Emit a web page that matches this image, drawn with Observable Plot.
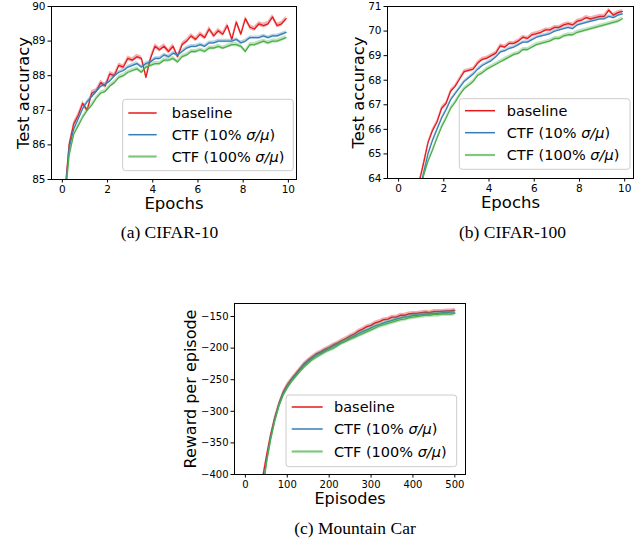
<!DOCTYPE html>
<html>
<head>
<meta charset="utf-8">
<script src="https://cdn.jsdelivr.net/npm/d3@7"></script>
<script src="https://cdn.jsdelivr.net/npm/@observablehq/plot@0.6"></script>
<style>
  html, body { margin: 0; padding: 0; background: #ffffff; }
  #fig { position: relative; width: 641px; height: 544px; background: #ffffff; overflow: hidden; }
  #fig svg { position: absolute; overflow: visible; }
</style>
</head>
<body>
<div id="fig"></div>
<script>
// ---------- data ----------
const seriesLabels = ["baseline", "CTF (10% σ/μ)", "CTF (100% σ/μ)"];
const seriesColors = ["#e41a1c", "#377eb8", "#4daf4a"];

const epochs = [0.1,0.3,0.5,0.7,0.9,1.1,1.3,1.5,1.7,1.9,2.1,2.3,2.5,2.7,2.9,3.1,3.3,3.5,3.7,3.9,
  4.1,4.3,4.5,4.7,4.9,5.1,5.3,5.5,5.7,5.9,6.1,6.3,6.5,6.7,6.9,7.1,7.3,7.5,7.7,7.9,
  8.1,8.3,8.5,8.7,8.9,9.1,9.3,9.5,9.7,9.9];

// (a) CIFAR-10 test accuracy
const cifar10Baseline = [84.5,86.0,86.6,86.85,87.2,87.0,87.5,87.55,87.8,87.7,
  88.05,88.0,88.3,88.25,88.5,88.45,88.55,88.5,87.95,88.5,
  88.85,88.75,88.85,88.7,88.85,88.55,88.9,89.0,89.15,89.05,
  89.2,89.1,89.35,89.15,89.3,89.2,89.45,89.05,89.55,89.2,
  89.65,89.4,89.35,89.5,89.45,89.5,89.7,89.45,89.5,89.65];
const cifar10Ctf10 = [84.4,85.9,86.45,86.75,87.05,87.25,87.4,87.55,87.7,87.75,
  87.85,88.0,88.1,88.15,88.25,88.3,88.35,88.25,88.35,88.4,
  88.5,88.5,88.6,88.55,88.65,88.6,88.7,88.8,88.85,88.85,
  88.9,88.85,88.95,88.95,89.0,89.0,89.0,89.0,89.05,88.95,
  89.0,89.1,89.1,89.1,89.15,89.1,89.15,89.15,89.2,89.25];
const cifar10Ctf100 = [84.3,85.7,86.3,86.55,86.8,87.0,87.15,87.35,87.5,87.55,
  87.7,87.8,87.95,88.0,88.1,88.15,88.2,88.1,88.25,88.3,
  88.35,88.35,88.45,88.45,88.5,88.4,88.55,88.6,88.7,88.7,
  88.75,88.7,88.8,88.8,88.85,88.8,88.85,88.9,88.9,88.85,
  88.7,88.9,88.9,88.95,89.0,88.95,89.0,89.0,89.05,89.1];
const cifar10Spread = [0.07, 0.05, 0.06];

// (b) CIFAR-100 test accuracy
const cifar100Baseline = [55,58.5,61,62.8,63.8,64.6,65.45,65.95,66.3,66.85,
  67.05,67.55,67.75,68.05,68.35,68.4,68.45,68.7,68.85,68.9,
  69.0,69.1,69.4,69.35,69.5,69.5,69.6,69.75,69.7,69.85,
  69.9,69.95,70.05,70.05,70.15,70.15,70.25,70.3,70.25,70.4,
  70.45,70.55,70.5,70.55,70.6,70.6,70.85,70.65,70.75,70.8];
const cifar100Ctf10 = [54,57.5,60,62,63.3,64.2,65.0,65.55,66.0,66.45,
  66.8,67.2,67.45,67.7,67.95,68.1,68.25,68.45,68.6,68.7,
  68.8,68.95,69.15,69.2,69.3,69.35,69.45,69.55,69.55,69.65,
  69.75,69.8,69.85,69.9,70.0,70.05,70.1,70.15,70.1,70.25,
  70.3,70.35,70.4,70.45,70.5,70.5,70.6,70.55,70.65,70.7];
const cifar100Ctf100 = [53.5,57,59.5,61.5,63.0,64.1,64.7,65.15,65.65,66.1,
  66.45,66.85,67.1,67.4,67.65,67.8,67.95,68.2,68.3,68.45,
  68.55,68.65,68.75,68.85,68.95,69.05,69.1,69.25,69.25,69.35,
  69.45,69.5,69.55,69.6,69.7,69.7,69.8,69.85,69.85,69.95,
  70.0,70.05,70.1,70.15,70.2,70.25,70.3,70.35,70.4,70.5];
const cifar100Spread = [0.08, 0.06, 0.08];

// (c) Mountain Car reward per episode
const episodes = [0,10,20,30,40,50,60,70,80,90,100,110,120,130,140,150,160,170,180,190,
  200,210,220,230,240,250,260,270,280,290,300,310,320,330,340,350,360,370,380,390,
  400,410,420,430,440,450,460,470,480,490,500];
const carBaseline = [-1400,-1100,-800,-560,-410,-372,-338,-310,-288,-270,
  -258,-249,-241,-233,-225,-219,-214,-209,-206,-202,
  -199,-195,-192,-188,-185,-181,-178,-173,-170,-166,
  -164,-160,-158,-155,-154,-151,-151,-148,-148,-146,
  -145,-145,-144,-143,-144,-142,-142,-142,-141,-141,-140];
const carCtf10 = [-1450,-1150,-850,-600,-430,-380,-343,-313,-290,-272,
  -261,-251,-243,-235,-227,-221,-216,-211,-208,-204,
  -201,-197,-194,-191,-188,-184,-181,-177,-174,-171,
  -168,-165,-163,-160,-158,-156,-154,-152,-151,-150,
  -148,-148,-147,-146,-146,-145,-145,-144,-144,-143,-143];
const carCtf100 = [-1450,-1150,-850,-600,-432,-383,-346,-316,-292,-275,
  -263,-253,-245,-237,-230,-224,-218,-214,-210,-206,
  -203,-200,-196,-192,-189,-186,-183,-180,-177,-174,
  -171,-168,-165,-163,-161,-159,-157,-155,-154,-152,
  -151,-150,-149,-148,-148,-147,-147,-146,-146,-146,-145];
const carSpread = [3, 3, 4];

// tick values
const epochTicks = [0, 2, 4, 6, 8, 10];
const cifar10Ticks = [85, 86, 87, 88, 89, 90];
const cifar100Ticks = [64, 65, 66, 67, 68, 69, 70, 71];
const episodeTicks = [0, 100, 200, 300, 400, 500];
const rewardTicks = [-400, -350, -300, -250, -200, -150];

// ---------- drawing ----------
const FONT = "'DejaVu Sans', sans-serif";
const SERIF = "'Liberation Serif', 'Times New Roman', serif";
const fig = document.getElementById("fig");
const intFmt = d3.format("d");

function panel(cfg) {
  const marks = [];
  cfg.values.forEach((vals, k) => {
    const rows = cfg.xs.map((x, i) => ({x, y: vals[i], lo: vals[i] - cfg.spread[k], hi: vals[i] + cfg.spread[k]}));
    marks.push(Plot.areaY(rows, {x: "x", y1: "lo", y2: "hi", fill: seriesColors[k], fillOpacity: 0.35, clip: true}));
    marks.push(Plot.lineY(rows, {x: "x", y: "y", stroke: seriesColors[k], strokeWidth: 1.3, clip: true}));
  });
  marks.push(Plot.frame({stroke: "black", strokeWidth: 1}));
  marks.push(Plot.axisX({ticks: cfg.xTicks, tickFormat: intFmt, tickSize: 3.5, tickPadding: 2.5, label: null, fontSize: cfg.tickFont}));
  marks.push(Plot.axisY({ticks: cfg.yTicks, tickFormat: intFmt, tickSize: 3.5, tickPadding: 2.5, label: null, fontSize: cfg.tickFont}));
  marks.push(Plot.text([cfg.xLabel], {frameAnchor: "bottom", text: d => d, dy: cfg.xLabelDy, textAnchor: "middle", lineAnchor: "bottom", fontSize: cfg.labelFont}));
  marks.push(Plot.text([cfg.yLabel], {frameAnchor: "left", text: d => d, dx: cfg.yLabelDx, rotate: -90, textAnchor: "middle", lineAnchor: "middle", fontSize: cfg.labelFont}));
  marks.push(Plot.text([cfg.caption], {frameAnchor: "bottom", text: d => d, dy: cfg.captionDy, dx: cfg.captionDx, textAnchor: "middle", lineAnchor: "bottom", fontSize: 17.5, fontFamily: SERIF}));

  const svg = Plot.plot({
    width: cfg.width, height: cfg.height,
    marginLeft: cfg.ml, marginRight: cfg.mr, marginTop: cfg.mt, marginBottom: cfg.mb,
    style: {fontFamily: FONT, fontSize: cfg.tickFont + "px", color: "black", background: "transparent"},
    x: {domain: cfg.xDomain},
    y: {domain: cfg.yDomain},
    marks
  });
  svg.style.left = cfg.left + "px";
  svg.style.top = cfg.top + "px";

  // legend (matplotlib style)
  const lg = cfg.legend;
  const g = d3.select(svg).append("g").attr("font-family", FONT).attr("font-size", 14.5)
    .attr("fill", "black").attr("text-anchor", "start");
  g.append("rect").attr("x", lg.x).attr("y", lg.y).attr("width", lg.w).attr("height", lg.h)
    .attr("rx", 3).attr("fill", "white").attr("fill-opacity", 0.8).attr("stroke", "#cccccc").attr("stroke-width", 1);
  seriesLabels.forEach((label, i) => {
    const yy = lg.rows[i];
    g.append("line").attr("x1", lg.lx1).attr("x2", lg.lx2).attr("y1", yy).attr("y2", yy)
      .attr("stroke", seriesColors[i]).attr("stroke-width", i === 2 ? 2.2 : 1.5).attr("stroke-opacity", i === 2 ? 0.7 : 1);
    const t = g.append("text").attr("x", lg.tx).attr("y", yy).attr("dy", "0.35em").attr("text-anchor", "start");
    const m = label.match(/^(.*?)(σ\/μ)(\))$/);
    if (m) {
      t.append("tspan").text(m[1]);
      t.append("tspan").attr("font-style", "italic").text(m[2]);
      t.append("tspan").text(m[3]);
    } else {
      t.text(label);
    }
  });
  fig.appendChild(svg);
}

panel({
  left: 0, top: 0, width: 320, height: 245, ml: 51, mr: 24, mt: 6, mb: 66,
  xs: epochs, values: [cifar10Baseline, cifar10Ctf10, cifar10Ctf100], spread: cifar10Spread,
  xDomain: [-0.48, 10.36], yDomain: [85, 90], xTicks: epochTicks, yTicks: cifar10Ticks,
  tickFont: 10.5, labelFont: 16.5,
  xLabel: "Epochs", yLabel: "Test accuracy", xLabelDy: 29.3, yLabelDx: -27.5,
  caption: "(a) CIFAR-10", captionDy: 58.5, captionDx: -4.5,
  legend: {x: 122.7, y: 99.3, w: 170.6, h: 71.4, lx1: 128.3, lx2: 156.7, tx: 171.7, rows: [113, 134.7, 156.5]}
});

panel({
  left: 320, top: 0, width: 321, height: 245, ml: 67, mr: 8, mt: 6, mb: 67,
  xs: epochs, values: [cifar100Baseline, cifar100Ctf10, cifar100Ctf100], spread: cifar100Spread,
  xDomain: [-0.49, 10.39], yDomain: [64, 71], xTicks: epochTicks, yTicks: cifar100Ticks,
  tickFont: 10.5, labelFont: 16.5,
  xLabel: "Epochs", yLabel: "Test accuracy", xLabelDy: 29.3, yLabelDx: -28.7,
  caption: "(b) CIFAR-100", captionDy: 59.5, captionDx: 2,
  legend: {x: 139.3, y: 98.7, w: 170.7, h: 70.6, lx1: 145, lx2: 175, tx: 186.7, rows: [110.7, 132.7, 155]}
});

panel({
  left: 170, top: 280, width: 310, height: 264, ml: 64, mr: 15, mt: 23, mb: 70,
  xs: episodes, values: [carBaseline, carCtf10, carCtf100], spread: carSpread,
  xDomain: [-26, 525.5], yDomain: [-400, -129.4], xTicks: episodeTicks, yTicks: rewardTicks,
  tickFont: 10, labelFont: 16,
  xLabel: "Episodes", yLabel: "Reward per episode", xLabelDy: 29, yLabelDx: -44,
  caption: "(c) Mountain Car", captionDy: 59, captionDx: 5,
  legend: {x: 116, y: 115, w: 170.7, h: 71.7, lx1: 121.7, lx2: 152.7, tx: 164, rows: [127, 149, 171.5]}
});
</script>
</body>
</html>
